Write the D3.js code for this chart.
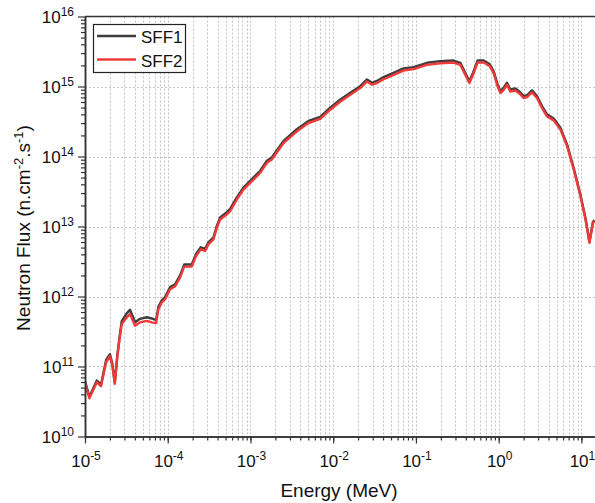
<!DOCTYPE html>
<html>
<head>
<meta charset="utf-8">
<script src="https://cdn.jsdelivr.net/npm/d3@7"></script>
<style>
body { margin: 0; background: #fff; }
text { font-family: Arial, "Liberation Sans", sans-serif; fill: #111; }
</style>
</head>
<body>
<svg width="595" height="503"></svg>
<script>
// energy in MeV, flux in n.cm-2.s-1
var energy = [1.00e-5, 1.13e-5, 1.39e-5, 1.56e-5, 1.80e-5, 2.00e-5, 2.14e-5, 2.29e-5, 2.46e-5, 2.60e-5,
  2.78e-5, 3.19e-5, 3.50e-5, 4.03e-5, 4.62e-5, 5.57e-5, 6.41e-5, 7.23e-5, 7.71e-5, 8.47e-5,
  9.29e-5, 1.07e-4, 1.23e-4, 1.41e-4, 1.58e-4, 1.95e-4, 2.20e-4, 2.51e-4, 2.83e-4, 3.10e-4,
  3.57e-4, 3.93e-4, 4.30e-4, 5.18e-4, 5.68e-4, 6.84e-4, 8.22e-4, 1.04e-3, 1.31e-3, 1.58e-3,
  1.81e-3, 2.51e-3, 3.64e-3, 5.02e-3, 6.97e-3, 9.20e-3, 1.22e-2, 1.61e-2, 2.12e-2, 2.56e-2,
  2.94e-2, 3.37e-2, 4.06e-2, 5.36e-2, 7.08e-2, 9.35e-2, 0.136, 0.197, 0.285, 0.344,
  0.394, 0.442, 0.490, 0.556, 0.658, 0.776, 0.869, 0.970, 1.05, 1.15,
  1.26, 1.38, 1.59, 1.79, 2.00, 2.20, 2.53, 2.90, 3.34, 3.84,
  4.62, 5.57, 6.71, 8.07, 9.73, 11.2, 12.5, 13.8, 14.4]

var sff1 = [6.2e10, 3.7e10, 6.3e10, 5.5e10, 1.24e11, 1.50e11, 1.10e11, 5.9e10, 1.45e11, 2.50e11,
  4.45e11, 5.75e11, 6.45e11, 4.30e11, 4.80e11, 5.05e11, 4.85e11, 4.60e11, 7.10e11, 8.80e11,
  9.80e11, 1.36e12, 1.50e12, 2.00e12, 2.86e12, 2.86e12, 4.05e12, 5.05e12, 4.80e12, 5.95e12,
  7.00e12, 1.03e13, 1.35e13, 1.60e13, 1.78e13, 2.60e13, 3.60e13, 4.75e13, 6.25e13, 8.70e13,
  9.70e13, 1.67e14, 2.45e14, 3.22e14, 3.68e14, 4.98e14, 6.54e14, 8.15e14, 1.01e15, 1.26e15,
  1.13e15, 1.20e15, 1.36e15, 1.57e15, 1.81e15, 1.89e15, 2.18e15, 2.30e15, 2.35e15, 2.18e15,
  1.57e15, 1.19e15, 1.57e15, 2.35e15, 2.35e15, 2.10e15, 1.65e15, 1.07e15, 8.60e14, 9.60e14,
  1.13e15, 9.10e14, 9.35e14, 8.40e14, 7.30e14, 7.55e14, 8.80e14, 7.30e14, 5.25e14, 4.00e14,
  3.50e14, 2.58e14, 1.48e14, 6.85e13, 2.84e13, 1.31e13, 6.05e12, 1.17e13, 1.23e13]

var sff2 = [5.96e10, 3.52e10, 5.96e10, 5.22e10, 1.15e11, 1.40e11, 1.03e11, 5.64e10, 1.36e11, 2.33e11,
  4.03e11, 5.02e11, 5.60e11, 3.81e11, 4.27e11, 4.49e11, 4.27e11, 4.17e11, 6.59e11, 8.22e11,
  9.16e11, 1.27e12, 1.40e12, 1.87e12, 2.67e12, 2.67e12, 3.78e12, 4.72e12, 4.47e12, 5.56e12,
  6.55e12, 9.62e12, 1.26e13, 1.49e13, 1.66e13, 2.43e13, 3.37e13, 4.44e13, 5.83e13, 8.11e13,
  9.04e13, 1.56e14, 2.29e14, 3.01e14, 3.44e14, 4.66e14, 6.11e14, 7.62e14, 9.48e14, 1.18e15,
  1.06e15, 1.12e15, 1.27e15, 1.47e15, 1.69e15, 1.77e15, 2.04e15, 2.15e15, 2.20e15, 2.04e15,
  1.47e15, 1.12e15, 1.47e15, 2.20e15, 2.20e15, 1.97e15, 1.55e15, 1.00e15, 8.05e14, 8.97e14,
  1.06e15, 8.49e14, 8.77e14, 7.87e14, 6.84e14, 7.06e14, 8.22e14, 6.84e14, 4.92e14, 3.74e14,
  3.28e14, 2.42e14, 1.40e14, 6.50e13, 2.71e13, 1.26e13, 5.87e12, 1.13e13, 1.19e13]

var seriesNames = ["SFF1", "SFF2"]
var seriesColors = ["#3d3d3d", "#f03a3a"]
var xTickExps = [-5, -4, -3, -2, -1, 0, 1]
var yTickExps = [10, 11, 12, 13, 14, 15, 16]

var svg = d3.select("svg")
var plotL = 85, plotR = 596, plotT = 16.5, plotB = 436.5

var x = d3.scaleLog().domain([1e-5, 15]).range([plotL, plotR])
var y = d3.scaleLog().domain([1e10, 1e16]).range([plotB, plotT])

svg.append("rect").attr("width", 595).attr("height", 503).attr("fill", "#fff")

svg.append("clipPath").attr("id", "clip")
  .append("rect").attr("x", plotL).attr("y", plotT)
  .attr("width", plotR - plotL).attr("height", plotB - plotT)

// minor tick positions
var xMinor = []
xTickExps.forEach(function(k){
  for (var m = 1; m <= 9; m++){
    var v = m * Math.pow(10, k)
    if (v <= 15) xMinor.push(v)
  }
})
var yMinor = []
yTickExps.slice(0, -1).forEach(function(k){
  for (var m = 2; m <= 9; m++) yMinor.push(m * Math.pow(10, k))
})
var xMajor = xTickExps.map(function(k){ return Math.pow(10, k) })
var yMajor = yTickExps.map(function(k){ return Math.pow(10, k) })

// grid
var grid = svg.append("g").attr("clip-path", "url(#clip)")
  .attr("stroke", "#c4c4c4").attr("stroke-width", 1).attr("stroke-dasharray", "2,2")
grid.selectAll("line.v").data(xMinor).enter().append("line")
  .attr("x1", function(d){ return Math.round(x(d)) + 0.5 })
  .attr("x2", function(d){ return Math.round(x(d)) + 0.5 })
  .attr("y1", plotT).attr("y2", plotB)
grid.selectAll("line.h").data(yMajor.slice(1, -1)).enter().append("line")
  .attr("y1", function(d){ return Math.round(y(d)) + 0.5 })
  .attr("y2", function(d){ return Math.round(y(d)) + 0.5 })
  .attr("x1", plotL).attr("x2", plotR)

// lines
var line = d3.line()
  .x(function(d){ return x(d[0]) })
  .y(function(d){ return y(d[1]) })

var series = [sff1, sff2]
var plot = svg.append("g").attr("clip-path", "url(#clip)")
series.forEach(function(vals, i){
  plot.append("path")
    .datum(energy.map(function(e, j){ return [e, vals[j]] }))
    .attr("d", line)
    .attr("fill", "none")
    .attr("stroke", seriesColors[i])
    .attr("stroke-width", 2.4)
    .attr("stroke-linejoin", "round")
})

// axes
function styleAxis(g){
  g.selectAll("path.domain").attr("stroke", "#333").attr("stroke-width", 1.5)
  g.selectAll(".tick line").attr("stroke", "#333").attr("stroke-width", 1.2)
  g.selectAll(".tick text").remove()
}
svg.append("g").attr("transform", "translate(0," + plotB + ")")
  .call(d3.axisBottom(x).tickValues(xMinor).tickSize(4).tickSizeOuter(0).tickFormat(""))
  .call(styleAxis)
svg.append("g").attr("transform", "translate(0," + plotB + ")")
  .call(d3.axisBottom(x).tickValues(xMajor).tickSize(7).tickSizeOuter(0).tickFormat(""))
  .call(styleAxis)
svg.append("g").attr("transform", "translate(" + plotL + ",0)")
  .call(d3.axisLeft(y).tickValues(yMinor).tickSize(4).tickSizeOuter(0).tickFormat(""))
  .call(styleAxis)
svg.append("g").attr("transform", "translate(" + plotL + ",0)")
  .call(d3.axisLeft(y).tickValues(yMajor).tickSize(7).tickSizeOuter(0).tickFormat(""))
  .call(styleAxis)
svg.append("line").attr("x1", plotL).attr("x2", plotR).attr("y1", plotT).attr("y2", plotT)
  .attr("stroke", "#333").attr("stroke-width", 1.5)

// tick labels
var xl = svg.append("g").selectAll("text").data(xTickExps).enter().append("text")
  .attr("x", function(k){ return x(Math.pow(10, k)) + 1 })
  .attr("y", 467)
  .attr("text-anchor", "middle")
  .style("font-size", "17px")
xl.append("tspan").text("10")
xl.append("tspan").attr("dy", -7).style("font-size", "12px").text(function(k){ return k })

var yl = svg.append("g").selectAll("text").data(yTickExps).enter().append("text")
  .attr("x", 74)
  .attr("y", function(k){ return y(Math.pow(10, k)) + 6 })
  .attr("text-anchor", "end")
  .style("font-size", "17px")
yl.append("tspan").text("10")
yl.append("tspan").attr("dy", -7).style("font-size", "12px").text(function(k){ return k })

// axis titles
svg.append("text").attr("x", 339).attr("y", 497).attr("text-anchor", "middle")
  .style("font-size", "19px").text("Energy (MeV)")

var yt = svg.append("text").attr("transform", "translate(30,228) rotate(-90)")
  .attr("text-anchor", "middle").style("font-size", "19px")
yt.append("tspan").text("Neutron Flux (n.cm")
yt.append("tspan").attr("dy", -7).style("font-size", "13px").text("-2")
yt.append("tspan").attr("dy", 7).text(".s")
yt.append("tspan").attr("dy", -7).style("font-size", "13px").text("-1")
yt.append("tspan").attr("dy", 7).text(")")

// legend
var lg = svg.append("g")
lg.append("rect").attr("x", 93.5).attr("y", 24.5).attr("width", 92).attr("height", 48)
  .attr("fill", "#fff").attr("stroke", "#222").attr("stroke-width", 1.2)
seriesNames.forEach(function(name, i){
  var ly = 36 + i * 23.5
  lg.append("line").attr("x1", 97).attr("x2", 136).attr("y1", ly).attr("y2", ly)
    .attr("stroke", seriesColors[i]).attr("stroke-width", 2.6)
  lg.append("text").attr("x", 141).attr("y", ly + 7).style("font-size", "17px").text(name)
})
</script>
</body>
</html>
